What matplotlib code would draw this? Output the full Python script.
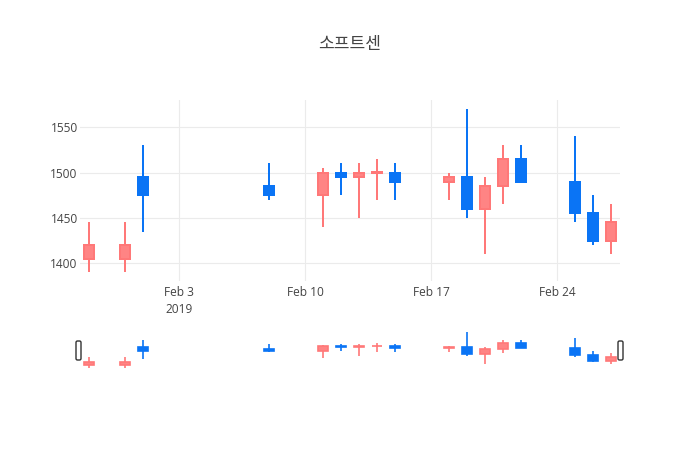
import matplotlib
matplotlib.use("Agg")
import matplotlib.pyplot as plt
import matplotlib.dates as mdates
from matplotlib.patches import FancyBboxPatch
import datetime as dt

dates = ["2019-01-29", "2019-01-31", "2019-02-01", "2019-02-08", "2019-02-11",
         "2019-02-12", "2019-02-13", "2019-02-14", "2019-02-15", "2019-02-18",
         "2019-02-19", "2019-02-20", "2019-02-21", "2019-02-22", "2019-02-25",
         "2019-02-26", "2019-02-27"]
opens = [1405, 1405, 1495, 1485, 1475, 1500, 1495, 1499, 1500, 1490,
         1495, 1460, 1485, 1515, 1490, 1455, 1425]
highs = [1445, 1445, 1530, 1510, 1505, 1510, 1510, 1515, 1510, 1500,
         1570, 1495, 1530, 1530, 1540, 1475, 1465]
lows = [1390, 1390, 1435, 1470, 1440, 1475, 1450, 1470, 1470, 1470,
        1450, 1410, 1465, 1490, 1445, 1420, 1410]
closes = [1420, 1420, 1475, 1475, 1500, 1495, 1500, 1501, 1490, 1495,
          1460, 1485, 1515, 1490, 1455, 1425, 1445]
title = "소프트센"
yticks = [1400, 1450, 1500, 1550]
xtick_dates = ["2019-02-03", "2019-02-10", "2019-02-17", "2019-02-24"]
xtick_labels = ["Feb 3\n2019", "Feb 10", "Feb 17", "Feb 24"]

UP_LINE = "#ff7878"
UP_FILL = "#ff8484"
DN_LINE = "#0a74f5"
DN_FILL = "#0a74f5"
TXT = "#444444"

xs = [mdates.date2num(dt.datetime.strptime(d, "%Y-%m-%d")) for d in dates]
xmin = xs[0] - 0.5
xmax = xs[-1] + 0.5
ymin, ymax = 1381, 1580

W, H = 700, 450
fig = plt.figure(figsize=(W / 100, H / 100), dpi=100)
fig.patch.set_facecolor("white")

ax = fig.add_axes([80 / W, (H - 280.5) / H, 540 / W, 180.5 / H])
axs = fig.add_axes([80 / W, (H - 370) / H, 540 / W, 40.5 / H])


def draw(a, lw):
    for x, o, h, l, c in zip(xs, opens, highs, lows, closes):
        up = c >= o
        lc = UP_LINE if up else DN_LINE
        fc = UP_FILL if up else DN_FILL
        a.vlines(x, l, h, color=lc, linewidth=lw, zorder=2)
        a.bar(x, abs(c - o), bottom=min(o, c), width=0.6, color=fc,
              edgecolor=lc, linewidth=lw, zorder=3)


draw(ax, 1.44)
draw(axs, 1.2)

for a in (ax, axs):
    a.set_xlim(xmin, xmax)
    a.set_ylim(ymin, ymax)
    for s in a.spines.values():
        s.set_visible(False)

ax.set_yticks(yticks)
ax.set_yticklabels([str(v) for v in yticks], fontfamily="Open Sans",
                   fontsize=8.6, color=TXT)
xt = [mdates.date2num(dt.datetime.strptime(d, "%Y-%m-%d")) for d in xtick_dates]
ax.set_xticks(xt)
ax.set_xticklabels(xtick_labels, fontfamily="Open Sans", fontsize=8.6,
                   color=TXT, linespacing=1.35, va="top")
ax.tick_params(axis="both", length=0)
ax.tick_params(axis="y", pad=1.6)
ax.tick_params(axis="x", pad=4)
ax.grid(True, color="#ebebeb", linewidth=0.8, zorder=0)
ax.set_axisbelow(True)

axs.set_xticks([])
axs.set_yticks([])

# range slider handles
for hx in (78.5, 620.5):
    p = FancyBboxPatch((hx - 2.5, H - 360), 5, 19,
                       boxstyle="round,pad=0,rounding_size=1.5",
                       transform=None, facecolor="white",
                       edgecolor="#333333", linewidth=1.0, zorder=5)
    fig.patches.append(p)

fig.text(350 / W, 1 - 44 / H, title, ha="center", va="center",
         fontfamily=["Noto Sans CJK KR", "DejaVu Sans"], fontsize=12.3,
         color=TXT)

fig.savefig("out.png", dpi=100, facecolor="white")
